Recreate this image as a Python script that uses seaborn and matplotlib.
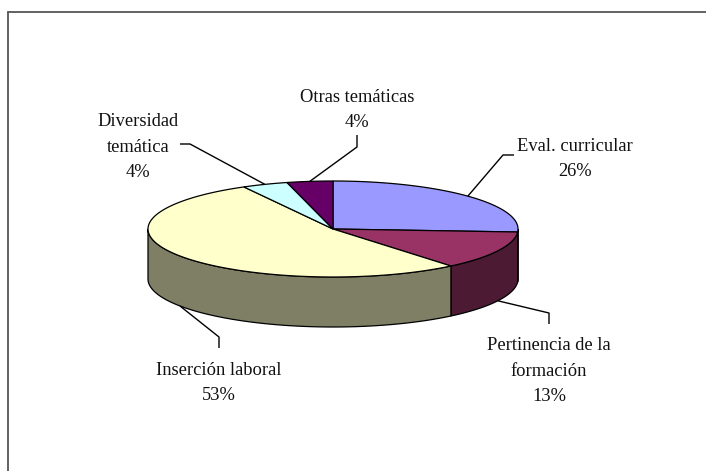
import numpy as np
import matplotlib
matplotlib.use("Agg")
import matplotlib.pyplot as plt
from matplotlib.patches import Polygon
import seaborn as sns

# ---- data ----
categories = ["Eval. curricular", "Pertinencia de la\nformación", "Inserción laboral",
              "Diversidad\ntemática", "Otras temáticas"]
values = [26, 13, 53, 4, 4]
pct_labels = ["26%", "13%", "53%", "4%", "4%"]
top_colors = ["#9999FF", "#993366", "#FFFFCC", "#CCFFFF", "#660066"]
side_colors = ["#4D4D80", "#4C1A33", "#7F7F66", "#668080", "#330033"]

# ---- layout (pixels) ----
W, H = 706, 471
cx, cy, a, b, depth = 333, 229, 185, 48, 50
label_pos = [(575, 159), (549, 371), (219, 383), (138, 147), (357, 110)]
elbows = [[(503, 155), (514, 155)],
          [(549, 313), (549, 324)],
          [(219, 337), (219, 348)],
          [(190, 144), (180, 144)],
          [(357, 147), (357, 135)]]

sns.set_theme(style="white")
plt.rcParams["font.family"] = ["Liberation Serif", "DejaVu Serif"]

fig = plt.figure(figsize=(W / 100, H / 100), dpi=100)
ax = fig.add_axes([0, 0, 1, 1])
ax.set_xlim(0, W)
ax.set_ylim(H, 0)
ax.axis("off")


def pt(phi_deg, dz=0.0):
    p = np.deg2rad(phi_deg)
    return cx + a * np.cos(p), cy - b * np.sin(p) + dz


total = float(sum(values))
starts, ends = [], []
cur = 90.0
for v in values:
    sweep = 360.0 * v / total
    starts.append(cur)
    ends.append(cur - sweep)
    cur -= sweep

# sides (front half: sin(phi) <= 0)
for s, e, col in zip(starts, ends, side_colors):
    for k in range(-2, 3):
        lo, hi = -180 + 360 * k, 0 + 360 * k
        u0, u1 = max(e, lo), min(s, hi)
        if u1 - u0 <= 1e-6:
            continue
        ph = np.linspace(u1, u0, 80)
        x, y = pt(ph)
        xs = np.concatenate([x, x[::-1]])
        ys = np.concatenate([y, (y + depth)[::-1]])
        ax.add_patch(Polygon(np.column_stack([xs, ys]), closed=True,
                             facecolor=col, edgecolor="black", lw=0.9, zorder=2))

# top wedges
for s, e, col in zip(starts, ends, top_colors):
    ph = np.linspace(s, e, 120)
    x, y = pt(ph)
    xs = np.concatenate([[cx], x])
    ys = np.concatenate([[cy], y])
    ax.add_patch(Polygon(np.column_stack([xs, ys]), closed=True,
                         facecolor=col, edgecolor="black", lw=0.9, zorder=3))

# labels and leader lines
for i, (s, e) in enumerate(zip(starts, ends)):
    mid = (s + e) / 2.0
    front = np.sin(np.deg2rad(mid)) < 0
    ax_, ay_ = pt(mid, depth if front else 0)
    path = [(ax_, ay_)] + elbows[i]
    px, py = zip(*path)
    ax.plot(px, py, color="black", lw=1.0, zorder=4, solid_capstyle="butt")
    lx, ly = label_pos[i]
    ax.text(lx, ly, categories[i] + "\n" + pct_labels[i], ha="center", va="center",
            fontsize=13.3, linespacing=1.68, color="#111111", zorder=5)

# frame (top and left edges visible)
ax.plot([8, W + 5], [12, 12], color="#555555", lw=1.3, zorder=6)
ax.plot([8, 8], [12, H + 5], color="#555555", lw=1.3, zorder=6)

fig.savefig("out.png", dpi=100)
